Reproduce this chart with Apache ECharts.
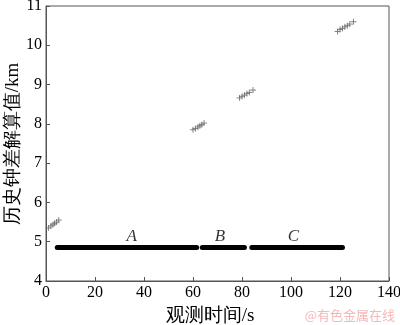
<!DOCTYPE html>
<html><head><meta charset="utf-8">
<script src="https://cdn.jsdelivr.net/npm/echarts@6/dist/echarts.min.js"></script>
<style>html,body{margin:0;padding:0;background:#fff}#c{width:400px;height:325px}</style>
</head><body><div id="c"></div>
<script>
const xTicks = [0,20,40,60,80,100,120,140];
const yTicks = [4,5,6,7,8,9,10,11];
const obsX = [1,2,2.8,3.5,4.3,5.2, 60,61,62,62.8,63.6,64.5, 79,80,81,82,83,84.5, 119,120,121,122,123,124,125.5];
const obsY = [5.35,5.4,5.43,5.47,5.5,5.55, 7.85,7.88,7.92,7.95,7.98,8.02, 8.66,8.7,8.73,8.77,8.8,8.86, 10.35,10.4,10.43,10.47,10.5,10.54,10.6];
const segNames = ['A','B','C'];
const segStart = [4.6,63.8,84];
const segEnd = [61.5,81,121];
const segY = [4.85,4.85,4.85];
const labelX = [35,71,101];
const labelY = [5.12,5.12,5.12];
const yName = '历史钟差解算值/km';
const xName = '观测时间/s';

const chart = echarts.init(document.getElementById('c'));
const serif = '"Liberation Serif","Times New Roman",serif';
const series = [];
segNames.forEach((n,i)=>{
  series.push({type:'line', data:[[segStart[i],segY[i]],[segEnd[i],segY[i]]], symbol:'none',
    lineStyle:{color:'#000',width:5,cap:'round'}, silent:true, z:3});
});
series.push({type:'scatter', data:labelX.map((x,i)=>[x,labelY[i],segNames[i]]), symbolSize:0,
  label:{show:true,position:'inside',formatter:p=>p.data[2],fontFamily:serif,fontStyle:'italic',fontSize:17,color:'#000'}});
series.push({type:'scatter', data:obsX.map((x,i)=>[x,obsY[i]]),
  symbol:'path://M5,0L5,10M0,5L10,5', symbolSize:6,
  itemStyle:{color:'none',borderColor:'#666',borderWidth:1}, z:4});

chart.setOption({
  animation:false,
  grid:{left:46,right:11,top:6,bottom:44,containLabel:false,outerBoundsMode:'none',show:true,borderColor:'#555',borderWidth:1},
  xAxis:{type:'value',min:0,max:140,interval:20,
    axisLine:{lineStyle:{color:'#555'}},axisTick:{inside:true,length:4,lineStyle:{color:'#555'}},
    axisLabel:{fontFamily:serif,fontSize:16,color:'#000',margin:4},splitLine:{show:false}},
  yAxis:{type:'value',min:4,max:11,interval:1,
    axisLine:{lineStyle:{color:'#555'}},axisTick:{inside:true,length:4,lineStyle:{color:'#555'}},
    axisLabel:{fontFamily:serif,fontSize:16,color:'#000',margin:4},splitLine:{show:false}},
  graphic:[
    {type:'text',x:13,y:144,rotation:Math.PI/2,style:{text:yName,fill:'#000',fontSize:19,fontFamily:serif,align:'center',verticalAlign:'middle'}},
    {type:'text',x:210,y:316,style:{text:xName,fill:'#000',fontSize:19,fontFamily:serif,align:'center',verticalAlign:'middle'}},
    {type:'text',right:5,top:309,style:{text:'@有色金属在线',fill:'#f4b8b8',fontSize:13,fontFamily:'"Noto Sans CJK SC",sans-serif'}}
  ],
  series:series
});
</script></body></html>
